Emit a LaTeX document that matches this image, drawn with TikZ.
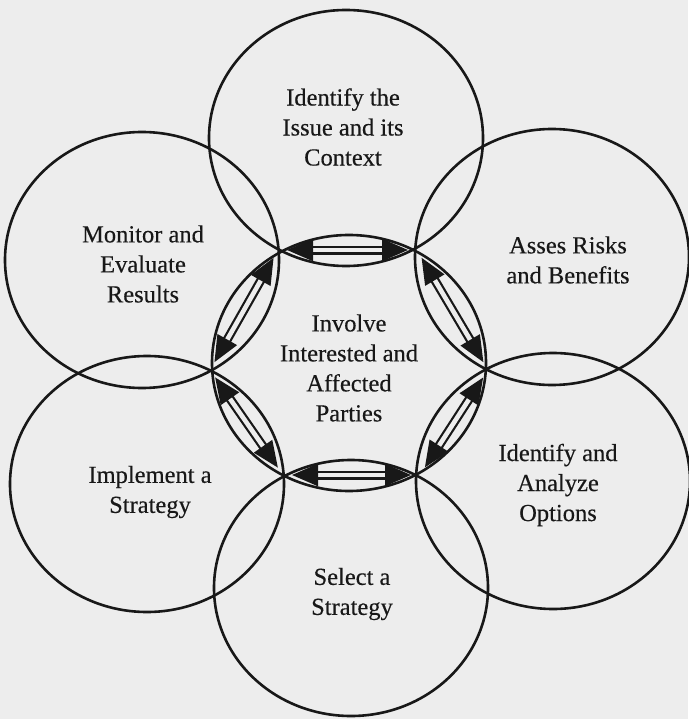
\documentclass[tikz,border=0pt]{standalone}
\usepackage{fontspec}
\setmainfont{Liberation Serif}[FakeBold=0.35]
\usetikzlibrary{shapes.geometric,arrows.meta}
\definecolor{paper}{RGB}{237,237,237}
\definecolor{ink}{RGB}{24,24,24}
\begin{document}
\begin{tikzpicture}[x=1pt,y=-1pt,
  ring/.style={ellipse, draw=ink, line width=2.6pt, minimum width=274pt,
    minimum height=256pt, inner sep=0pt},
  stagetext/.style={align=center, text=ink, inner sep=0pt,
    font=\fontsize{24.5}{30}\selectfont},
  link/.style={draw=ink, line width=2.2pt, double=paper, double distance=4.6pt,
    {Triangle[length=26pt,width=22pt]}-{Triangle[length=26pt,width=22pt]},
    shorten <=9pt, shorten >=9pt}
]
% page
\fill[paper] (0,0) rectangle (688,719);
\useasboundingbox (0,0) rectangle (688,719);

% the seven circles
\node[ring] (hub)     at (349,363) {};
\node[ring] (issue)   at (346,138) {};
\node[ring] (risks)   at (552,257) {};
\node[ring] (options) at (553,481) {};
\node[ring] (select)  at (351,588) {};
\node[ring] (impl)    at (147,484) {};
\node[ring] (monitor) at (142,260) {};

% meeting points of the ring
\coordinate (vTL) at (278,250);
\coordinate (vTR) at (417,250);
\coordinate (vR)  at (488,370);
\coordinate (vBR) at (420,475);
\coordinate (vBL) at (283,475);
\coordinate (vL)  at (210,370);

% two-way links between the stages
\draw[link] (vTL) -- (vTR);
\draw[link] (vTR) -- (vR);
\draw[link] (vR)  -- (vBR);
\draw[link] (vBR) -- (vBL);
\draw[link] (vBL) -- (vL);
\draw[link] (vL)  -- (vTL);

% stage names
\node[stagetext] (tIssue)   at (343,127) {Identify the\\Issue and its\\Context};
\node[stagetext] (tMonitor) at (143,264) {Monitor and\\Evaluate\\Results};
\node[stagetext] (tRisks)   at (568,260) {Asses Risks\\and Benefits};
\node[stagetext] (tHub)     at (349,368) {Involve\\Interested and\\Affected\\Parties};
\node[stagetext] (tImpl)    at (150,492) {Implement a\\Strategy};
\node[stagetext] (tOptions) at (558,485) {Identify and\\Analyze\\Options};
\node[stagetext] (tSelect)  at (352,594) {Select a\\Strategy};
\end{tikzpicture}
\end{document}
